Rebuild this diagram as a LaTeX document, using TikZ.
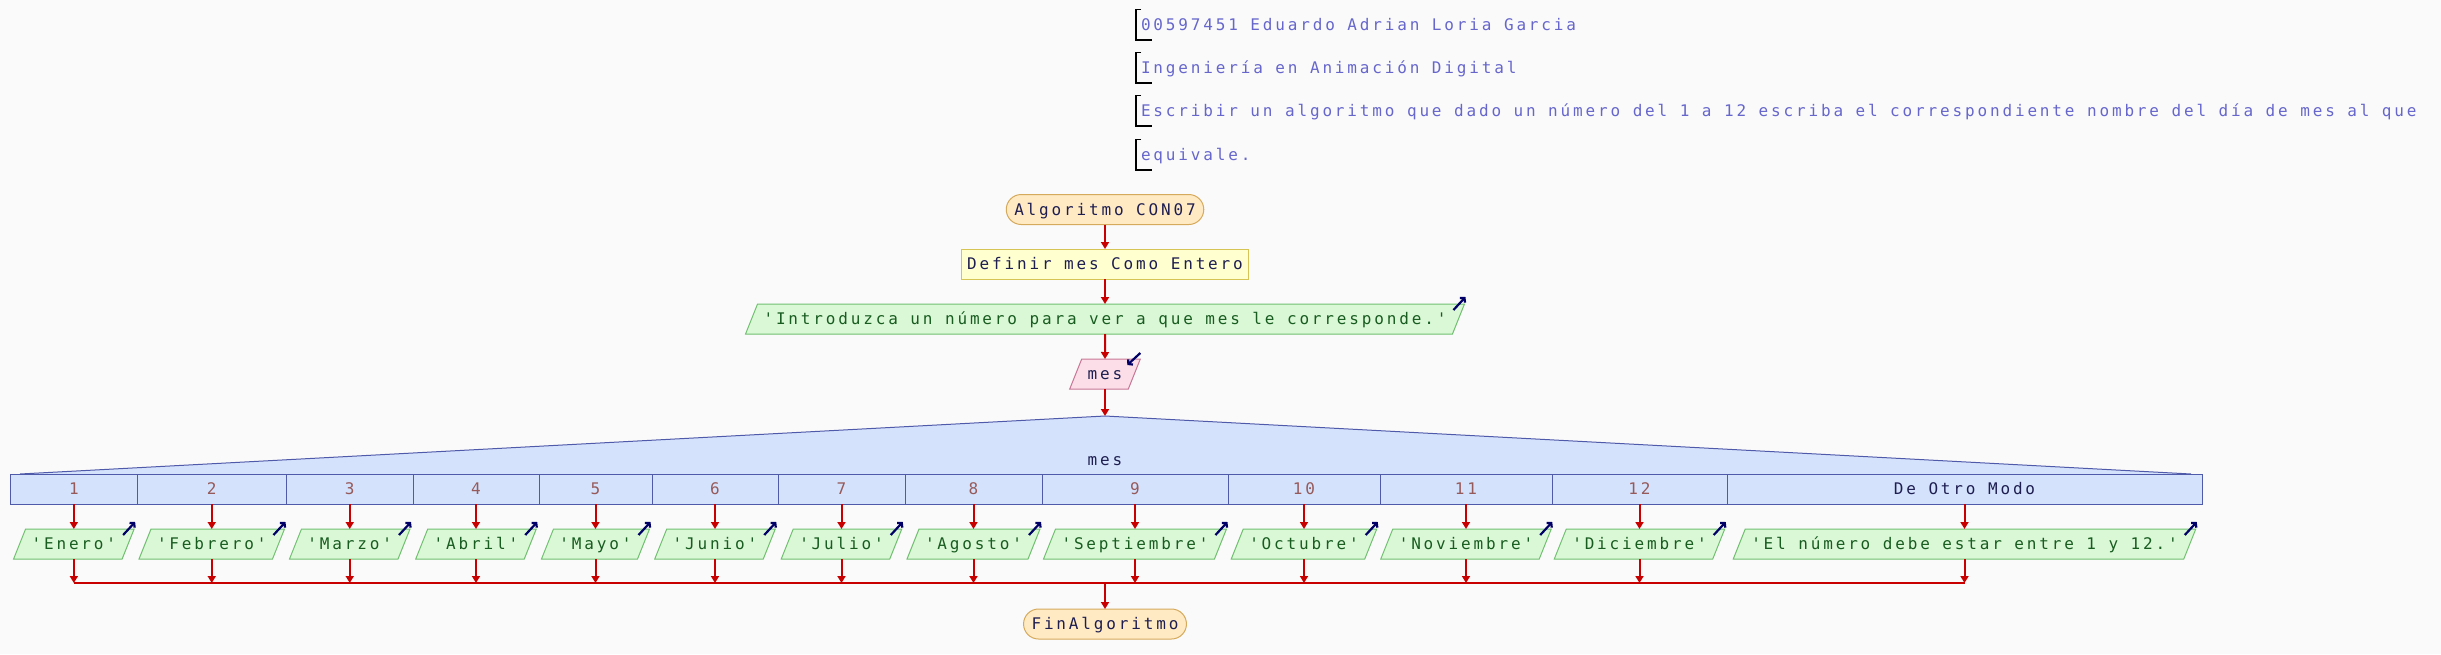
\documentclass[tikz,border=0pt]{standalone}
\usepackage{fontspec}
\usetikzlibrary{shapes.geometric, arrows.meta}

\newfontfamily\psfamily[LetterSpace = 17.8, Ligatures = TeXOff]{DejaVu Sans Mono}

\definecolor{fondo}{RGB}{250,250,250}
\definecolor{cabecera}{RGB}{102,102,204}
\definecolor{rojo}{RGB}{200,0,0}
\definecolor{azulicono}{RGB}{0,0,102}
\definecolor{tinta}{RGB}{30,30,80}
\definecolor{terminalfondo}{RGB}{255,234,196}
\definecolor{terminalborde}{RGB}{214,170,92}
\definecolor{definirfondo}{RGB}{255,255,208}
\definecolor{definirborde}{RGB}{214,196,84}
\definecolor{salidafondo}{RGB}{218,248,214}
\definecolor{salidaborde}{RGB}{112,192,112}
\definecolor{salidatinta}{RGB}{24,92,32}
\definecolor{entradafondo}{RGB}{252,222,232}
\definecolor{entradaborde}{RGB}{200,120,150}
\definecolor{segunfondo}{RGB}{212,226,252}
\definecolor{segunborde}{RGB}{80,90,170}
\definecolor{caso}{RGB}{150,90,90}

\begin{document}
\begin{tikzpicture}[x = 1pt, y = -1pt, > = {Triangle[length = 7pt, width = 8pt]},
	font = \psfamily\fontsize{16}{19}\selectfont,
	texto/.style = {text height = 13.5pt, text depth = 2.5pt, inner ysep = 7pt, outer sep = 0pt, line width = 1pt},
	terminal/.style = {texto, rectangle, rounded corners = 15pt, inner xsep = 8pt, draw = terminalborde, fill = terminalfondo, text = tinta},
	definir/.style = {texto, rectangle, inner xsep = 6pt, draw = definirborde, fill = definirfondo, text = tinta},
	paralelo/.style = {texto, trapezium, trapezium left angle = 68.2, trapezium right angle = 111.8, inner xsep = 6pt},
	salida/.style = {paralelo, draw = salidaborde, fill = salidafondo, text = salidatinta},
	entrada/.style = {paralelo, draw = entradaborde, fill = entradafondo, text = tinta},
	celda/.style = {texto, rectangle, inner xsep = 0pt, minimum height = 30pt, draw = segunborde, fill = segunfondo},
	flecha/.style = {->, draw = rojo, line width = 2pt},
	linea/.style = {draw = rojo, line width = 2pt},
	icono/.style = {-{Straight Barb[length = 3pt, width = 7pt]}, draw = azulicono, line width = 2.2pt},
	corchete/.style = {draw = black, line width = 1.2pt}]

	% Definitions
	
	\def\xc{1105}		% Axis of the flow
	\def\ys{489}		% Row of the cases
	\def\yo{544}		% Row of the outputs
	\def\yj{583}		% Joining line
	
	\fill [fondo] (0, 0) rectangle (2441, 654);
	
	% Draw header
	
	\foreach \n/\y/\t in {1/25/00597451 Eduardo Adrian Loria Garcia, 2/68/Ingeniería en Animación Digital, 3/111/Escribir un algoritmo que dado un número del 1 a 12 escriba el correspondiente nombre del día de mes al que, 4/155/equivale.}
	{
		\draw [corchete] (1141, {\y - 15.5}) -- (1136, {\y - 15.5}) -- (1136, {\y + 15}) -- (1152, {\y + 15});
		\node [texto, anchor = west, inner xsep = 0pt, text = cabecera] (h\n) at (1141, \y) {\t};
	}
	
	% Draw flow
	
	\node [terminal] (alg) at (\xc, 209.5) {Algoritmo CON07};
	\node [definir] (def) at (\xc, 264) {Definir mes Como Entero};
	\node [salida] (intro) at (\xc, 319) {'Introduzca un número para ver a que mes le corresponde.'};
	\node [entrada] (mes) at (\xc, 374) {mes};
	\coordinate (apex) at (\xc, 416);
	
	\draw [flecha] (alg) -- (def);
	\draw [flecha] (def) -- (intro);
	\draw [flecha] (intro) -- (mes);
	\draw [flecha] (mes) -- (apex);
	
	\draw [icono] ([shift = {(-11, 6)}] intro.top right corner) -- ([shift = {(1, -7)}] intro.top right corner);
	\draw [icono] ([shift = {(0, -6)}] mes.top right corner) -- ([shift = {(-13, 6)}] mes.top right corner);
	
	% Draw switch
	
	\fill [segunfondo] (20, 474) -- (apex) -- (2191, 474) -- cycle;
	\draw [segunborde, line width = 1pt] (20, 474) -- (apex) -- (2191, 474);
	\node [texto, text = tinta] (sw) at (\xc, 460) {mes};
	
	\foreach \n/\xl/\xr/\col/\lab/\txt in {1/10.7/137/caso/1/'Enero', 2/137/286.5/caso/2/'Febrero', 3/286.5/413/caso/3/'Marzo', 4/413/539/caso/4/'Abril', 5/539/652/caso/5/'Mayo', 6/652/778/caso/6/'Junio', 7/778/905/caso/7/'Julio', 8/905/1042/caso/8/'Agosto', 9/1042/1228/caso/9/'Septiembre', 10/1228/1380/caso/10/'Octubre', 11/1380/1552/caso/11/'Noviembre', 12/1552/1727/caso/12/'Diciembre', 13/1727/2202/tinta/De Otro Modo/'El número debe estar entre 1 y 12.'}
	{
		\node [celda, text = \col, minimum width = {\xr - \xl}] (c\n) at ({(\xl + \xr) / 2}, \ys) {\lab};
		\node [salida] (s\n) at ({(\xl + \xr) / 2}, \yo) {\txt};
		\coordinate (j\n) at ({(\xl + \xr) / 2}, \yj);
		\draw [flecha] (c\n) -- (s\n);
		\draw [flecha] (s\n) -- (j\n);
		\draw [icono] ([shift = {(-11, 6)}] s\n.top right corner) -- ([shift = {(1, -7)}] s\n.top right corner);
	}
	
	% Draw end
	
	\node [terminal] (fin) at (\xc, 624) {FinAlgoritmo};
	\coordinate (jm) at (\xc, \yj);
	
	\draw [linea] (j1) -- (j13);
	\draw [flecha] (jm) -- (fin);
	
\end{tikzpicture}
\end{document}
